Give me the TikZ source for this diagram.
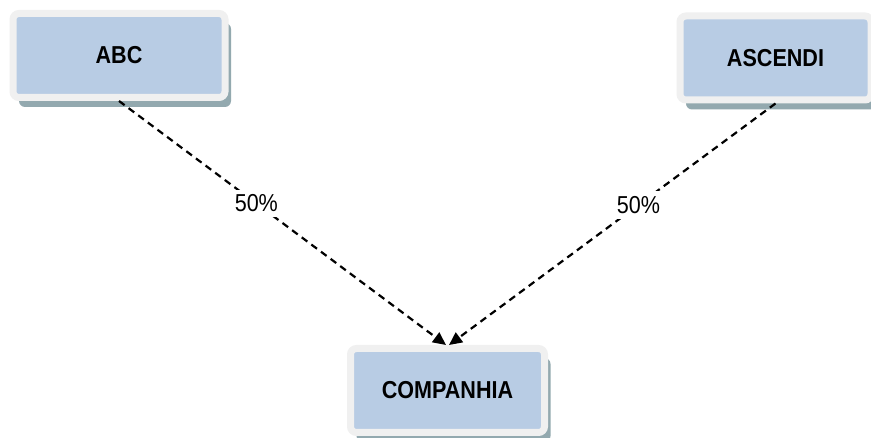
\documentclass[tikz,border=0pt]{standalone}
\usepackage{fontspec}
\setmainfont{Liberation Sans}
\newfontfamily\mynarrow[FakeStretch=0.88]{Liberation Sans}
\usepackage{color}
\definecolor{myblue}{RGB}{184,204,228}
\definecolor{myframe}{RGB}{240,240,240}
\definecolor{myshadow}{RGB}{147,169,175}
\usepackage{tikz}
\usetikzlibrary{arrows.meta,shadows,positioning}

\begin{document}
\begin{tikzpicture}[
  x=1pt, y=-1pt,
  mybox/.style={
    draw=myframe,
    fill=myblue,
    line width=7pt,
    rounded corners=6pt,
    minimum width=#1,
    minimum height=84pt,
    font=\mynarrow\bfseries\fontsize{24.5}{28}\selectfont,
    drop shadow={shadow xshift=6pt, shadow yshift=-9.5pt, fill=myshadow, opacity=1}
    },
  myarrow/.style={
    line width=2.2pt,
    dash pattern=on 7pt off 5pt,
    -{Triangle[length=13pt,width=12pt]}
    },
  mylabel/.style={
    fill=white,
    inner sep=5pt,
    font=\mynarrow\fontsize{24.5}{28}\selectfont
    }
]

\fill[white] (0,0) rectangle (871,438);
\useasboundingbox (0,0) rectangle (871,438);

\node[mybox=212pt] (abc) at (119,55.5) {ABC};
\node[mybox=191pt] (ascendi) at (775.5,58) {ASCENDI};
\node[mybox=194pt] (companhia) at (447.5,390.5) {COMPANHIA};

\draw[myarrow] (abc.south) -- node[mylabel, pos=0.42] {50\%} ([xshift=-1.5pt]companhia.north);
\draw[myarrow] (ascendi.south) -- node[mylabel, pos=0.42] {50\%} ([xshift=1.5pt]companhia.north);

\end{tikzpicture}
\end{document}
